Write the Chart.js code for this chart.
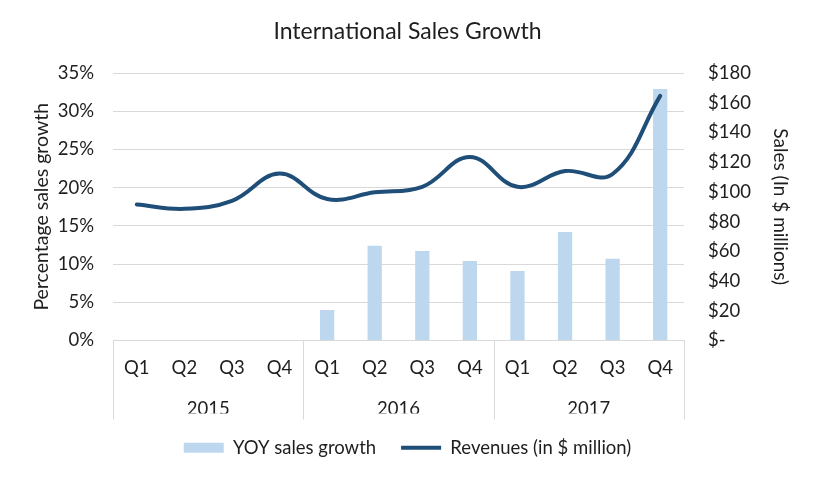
<!DOCTYPE html>
<html>
<head>
<meta charset="utf-8">
<title>International Sales Growth</title>
<script src="https://cdn.jsdelivr.net/npm/chart.js@4.4.1/dist/chart.umd.min.js"></script>
<style>
  body { margin: 0; background: #fff; }
  #wrap { width: 815px; height: 481px; }
</style>
</head>
<body>
<div id="wrap"><canvas id="salesChart" width="815" height="481"></canvas></div>
<script>
// data
const quarters = ['Q1', 'Q2', 'Q3', 'Q4', 'Q1', 'Q2', 'Q3', 'Q4', 'Q1', 'Q2', 'Q3', 'Q4'];
const years = ['2015', '2016', '2017'];
const growthPct = [null, null, null, null, 4.0, 12.4, 11.7, 10.4, 9.1, 14.2, 10.7, 32.9];
const revenues = [91.5, 88.6, 94, 112.3, 95.2, 99.7, 103.4, 123.5, 103.4, 114, 112, 164.6];

const textColor = '#1e1e1e';
const gridColor = '#D9D9D9';
const barColor = '#BDD7EE';
const lineColor = '#1F4E79';
Chart.defaults.font.family = 'Lato, "Open Sans", sans-serif';

// vertical separators of the year groups (multi level category axis)
const groupLines = {
  id: 'groupLines',
  afterDraw(chart) {
    const x = chart.scales.x;
    const yr = chart.scales.years;
    const ctx = chart.ctx;
    const perGroup = quarters.length / years.length;
    const half = (x.getPixelForValue(1) - x.getPixelForValue(0)) / 2;
    ctx.save();
    ctx.strokeStyle = gridColor;
    ctx.lineWidth = 1;
    for (let g = 0; g <= years.length; g++) {
      const idx = Math.min(g * perGroup, quarters.length - 1);
      let px = x.getPixelForValue(idx) + (g * perGroup >= quarters.length ? half : -half);
      px = Math.round(px) + 0.5;
      ctx.beginPath();
      ctx.moveTo(px, chart.chartArea.bottom);
      ctx.lineTo(px, yr.top + 22);
      ctx.stroke();
    }
    ctx.restore();
  }
};

const ctx = document.getElementById('salesChart').getContext('2d');
const salesChart = new Chart(ctx, {
  type: 'bar',
  data: {
    labels: quarters,
    datasets: [{
      type: 'bar',
      label: 'YOY sales growth',
      data: growthPct,
      backgroundColor: barColor,
      borderWidth: 0,
      barPercentage: 0.3,
      categoryPercentage: 1,
      yAxisID: 'y',
      order: 1,
      pointStyle: 'rect'
    }, {
      type: 'line',
      label: 'Revenues (in $ million)',
      data: revenues,
      borderColor: lineColor,
      backgroundColor: lineColor,
      borderWidth: 4,
      borderCapStyle: 'round',
      tension: 0.4,
      pointRadius: 0,
      pointHoverRadius: 0,
      pointBorderWidth: 4,
      pointBorderColor: lineColor,
      pointStyle: 'line',
      yAxisID: 'y1',
      order: 0
    }]
  },
  options: {
    responsive: false,
    animation: false,
    layout: { padding: { left: 0, right: 0, top: 0, bottom: 14 } },
    plugins: {
      title: {
        display: true,
        text: 'International Sales Growth',
        color: textColor,
        font: { size: 23, weight: 'normal' },
        padding: { top: 18, bottom: 27.4 }
      },
      legend: {
        position: 'bottom',
        labels: {
          usePointStyle: true,
          pointStyleWidth: 40,
          boxHeight: 10,
          padding: 25,
          color: textColor,
          font: { size: 18.5 },
          sort: (a, b) => a.datasetIndex - b.datasetIndex
        }
      },
      tooltip: { enabled: false }
    },
    scales: {
      x: {
        grid: { display: false, drawTicks: false },
        border: { display: true, color: gridColor },
        ticks: { color: textColor, font: { size: 18.5 }, padding: 16, maxRotation: 0, autoSkip: false },
        afterFit(scale) { scale.height = 57; }
      },
      years: {
        type: 'category',
        labels: years,
        position: 'bottom',
        grid: { display: false, drawTicks: false },
        border: { display: false },
        ticks: { color: textColor, font: { size: 18.5 }, padding: 0 },
        afterFit(scale) { scale.height = 16; }
      },
      y: {
        position: 'left',
        min: 0,
        max: 35,
        ticks: { stepSize: 5, padding: 19, color: textColor, font: { size: 18.5 }, callback: v => v + '%' },
        grid: { color: gridColor, drawTicks: false },
        border: { display: false },
        title: {
          display: true,
          text: 'Percentage sales growth',
          color: textColor,
          font: { size: 19.5 },
          padding: { top: 30, bottom: 0 }
        },
        afterFit(scale) { scale.width = 113; }
      },
      y1: {
        position: 'right',
        min: 0,
        max: 180,
        ticks: { stepSize: 20, padding: 24, color: textColor, font: { size: 18.5 }, callback: v => v === 0 ? '$-' : '$' + v },
        grid: { display: false, drawTicks: false },
        border: { display: false },
        title: {
          display: true,
          text: 'Sales (In $ millions)',
          color: textColor,
          font: { size: 19 },
          padding: { top: 23.5, bottom: 0 }
        },
        afterFit(scale) { scale.width = 131; }
      }
    }
  },
  plugins: [groupLines]
});
</script>
</body>
</html>
